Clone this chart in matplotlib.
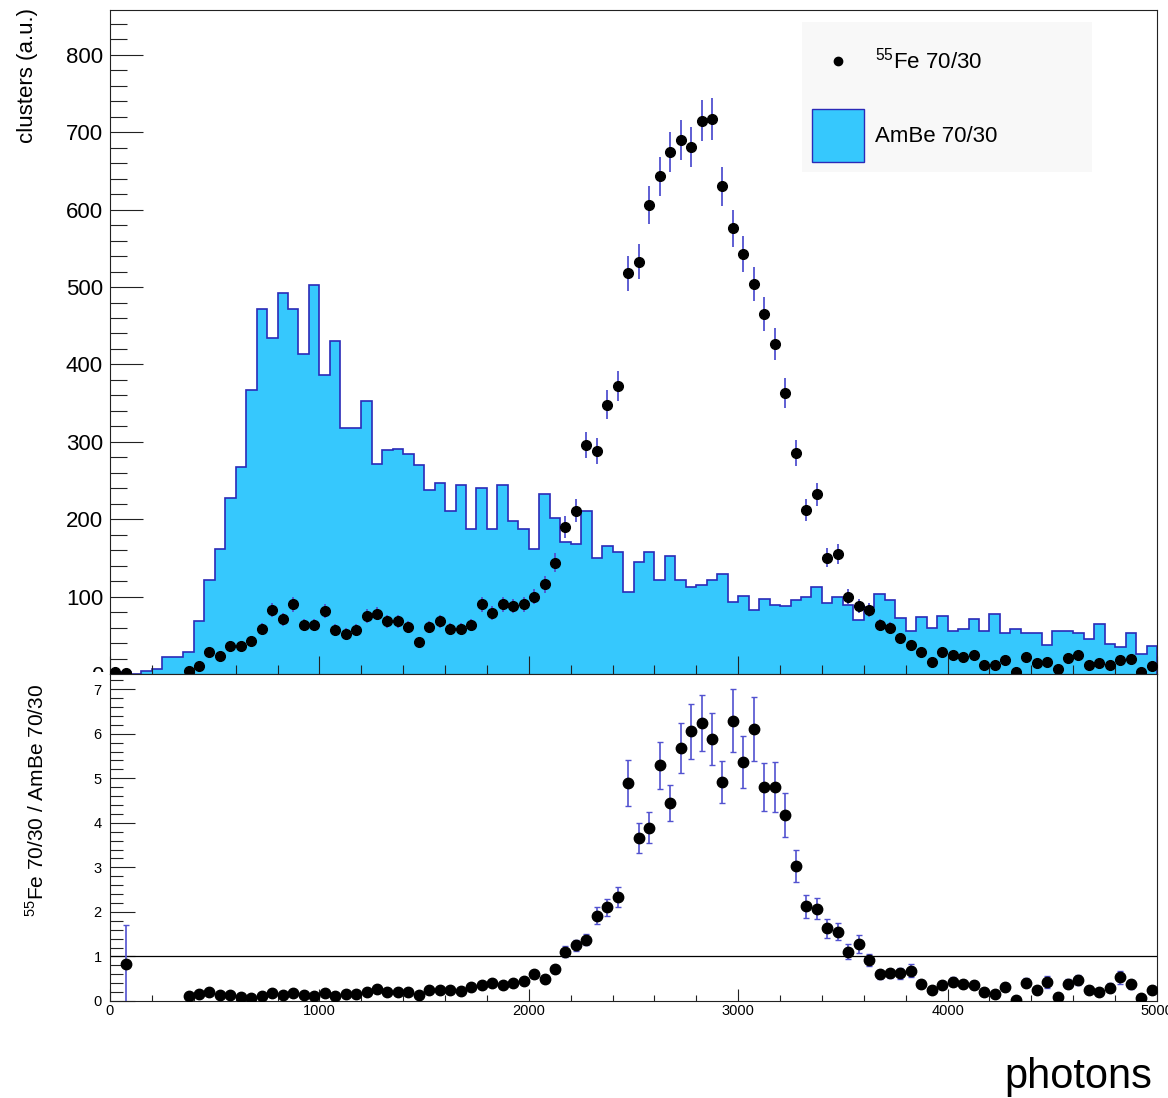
import numpy as np
import matplotlib
matplotlib.use("Agg")
import matplotlib.pyplot as plt
from matplotlib.ticker import MultipleLocator
from matplotlib.patches import Rectangle
from matplotlib.lines import Line2D

plt.rcParams['font.family'] = ['Liberation Sans', 'DejaVu Sans']
plt.rcParams['mathtext.fontset'] = 'custom'
plt.rcParams['mathtext.rm'] = 'Liberation Sans'

# binning: 100 bins of 50 photons
edges = np.arange(0, 5001, 50)
centers = edges[:-1] + 25

# AmBe 70/30 histogram (clusters, a.u.)
ambe = [0, 2, 0, 4, 6.5, 22, 21.5, 29, 69, 121,
        161, 227, 268, 367, 471, 434, 492, 471, 413, 503,
        386, 430, 318, 318, 353, 272, 290, 291, 284, 270,
        238, 247, 211, 244, 187, 240, 187, 244, 198, 188,
        161, 233, 201, 170, 168, 210, 150, 166, 158, 106,
        145, 157, 122, 152, 122, 113, 115, 122, 129, 93,
        101, 83, 97, 89, 88, 95, 99, 112, 92, 99,
        89, 70, 87, 104, 95, 72, 56, 74, 59, 75,
        56, 58, 71, 56, 78, 53, 58, 53, 53, 37,
        56, 56, 53, 45, 65, 39, 35, 53, 26, 36]

# 55Fe 70/30 points (nan = empty bin, not drawn)
nan = np.nan
fe = [2, 1.7, nan, nan, nan, nan, nan, 4, 10, 28,
      23, 36, 36, 42, 58, 83, 71, 90, 63, 63,
      81, 57, 52, 57, 75, 78, 68, 68, 61, 41,
      61, 68, 58, 58, 63, 90, 79, 90, 88, 90,
      100, 116, 144, 190, 211, 296, 288, 348, 372, 518,
      533, 606, 643, 674, 690, 681, 715, 717, 630, 576,
      543, 504, 465, 427, 363, 286, 212, 232, 150, 155,
      100, 88, 83, 63, 59, 46, 37, 28, 16, 28,
      25, 22, 25, 12, 12, 18, 2, 22, 14, 15,
      6, 21, 25, 12, 14, 12, 18, 19, 2, 10]

# ratio 55Fe / AmBe as read from the lower pad
ratio = [nan, 0.84, nan, nan, nan, nan, nan, 0.11, 0.15, 0.21,
         0.13, 0.13, 0.10, 0.07, 0.11, 0.19, 0.13, 0.19, 0.13, 0.11,
         0.19, 0.11, 0.15, 0.16, 0.21, 0.28, 0.21, 0.21, 0.21, 0.13,
         0.25, 0.25, 0.25, 0.22, 0.32, 0.35, 0.41, 0.35, 0.41, 0.46,
         0.60, 0.49, 0.71, 1.11, 1.25, 1.38, 1.91, 2.10, 2.34, 4.89,
         3.66, 3.89, 5.29, 4.45, 5.68, 6.05, 6.24, 5.88, 4.91, 6.29,
         5.36, 6.11, 4.81, 4.80, 4.17, 3.03, 2.13, 2.07, 1.63, 1.56,
         1.11, 1.28, 0.92, 0.60, 0.62, 0.62, 0.68, 0.38, 0.25, 0.36,
         0.43, 0.38, 0.36, 0.21, 0.15, 0.32, 0.02, 0.41, 0.25, 0.43,
         0.09, 0.39, 0.47, 0.25, 0.21, 0.30, 0.53, 0.38, 0.06, 0.25]

ambe = np.array(ambe, dtype=float)
fe = np.array(fe, dtype=float)
ratio = np.array(ratio, dtype=float)

fe_err = np.sqrt(fe)
with np.errstate(divide='ignore', invalid='ignore'):
    ratio_err = ratio * np.sqrt(1.0 / fe + 1.0 / ambe)

cyan = '#36c8fd'
dblue = '#2a2ab8'
ecol = '#5252d0'
frame = '#222222'

W, H = 1168, 1098
fig = plt.figure(figsize=(W / 100, H / 100), dpi=100)
ax1 = fig.add_axes([110 / W, 1 - 674 / H, 1047 / W, 664 / H])
ax2 = fig.add_axes([110 / W, 1 - 1001 / H, 1047 / W, 327 / H])
ax2.set_zorder(1)

# upper pad
ax1.stairs(ambe, edges, fill=True, color=cyan, lw=0)
ax1.stairs(ambe, edges, baseline=0, color=dblue, lw=1.2)
ax1.errorbar(centers, fe, yerr=fe_err, fmt='o', color='black', ms=7,
             ecolor=ecol, elinewidth=1.3, capsize=0, zorder=3)
ax1.set_xlim(0, 5000)
ax1.set_ylim(0, 858)
ax1.xaxis.set_major_locator(MultipleLocator(1000))
ax1.xaxis.set_minor_locator(MultipleLocator(200))
ax1.yaxis.set_major_locator(MultipleLocator(100))
ax1.yaxis.set_minor_locator(MultipleLocator(20))
ax1.tick_params(which='both', direction='in', top=False, right=False, color=frame, width=0.8)
ax1.tick_params(axis='y', which='major', length=24, labelsize=16, pad=5)
ax1.tick_params(axis='y', which='minor', length=12)
ax1.tick_params(axis='x', which='major', length=13, labelbottom=False)
ax1.tick_params(axis='x', which='minor', length=6.5)

# lower pad, its white margin hides the lower half of the upper "0"
ax2.add_patch(Rectangle((0, 0), 108 / W, 1 - 672 / H, transform=fig.transFigure,
                        facecolor='white', edgecolor='none', clip_on=False, zorder=0.5))
ax2.errorbar(centers, ratio, yerr=ratio_err, fmt='o', color='black', ms=7.5,
             ecolor=ecol, elinewidth=1.2, capsize=2.5, capthick=1.0, zorder=3)
ax2.axhline(1, color='black', lw=0.9, zorder=2)
ax2.set_xlim(0, 5000)
ax2.set_ylim(0, 7.34)
ax2.xaxis.set_major_locator(MultipleLocator(1000))
ax2.xaxis.set_minor_locator(MultipleLocator(200))
ax2.yaxis.set_major_locator(MultipleLocator(1))
ax2.yaxis.set_minor_locator(MultipleLocator(0.2))
ax2.tick_params(which='both', direction='in', top=False, right=False, color=frame, width=0.8)
ax2.tick_params(axis='y', which='major', length=18, labelsize=10.5, pad=6)
ax2.tick_params(axis='y', which='minor', length=9)
ax2.tick_params(axis='x', which='major', length=8.6, labelsize=10.5, pad=2)
ax2.tick_params(axis='x', which='minor', length=4.3)

for ax in (ax1, ax2):
    for sp in ax.spines.values():
        sp.set_color(frame)
        sp.set_linewidth(0.8)

# axis titles
fig.text(27 / W, 1 - 8 / H, 'clusters (a.u.)', rotation=90, ha='center', va='top', fontsize=16)
fig.text(36 / W, 1 - 800 / H, r'$^{55}$Fe 70/30 / AmBe 70/30', rotation=90,
         ha='center', va='center', fontsize=15)
fig.text(1152 / W, 1 / H, 'photons', ha='right', va='bottom', fontsize=30)

# legend box
fig.add_artist(Rectangle((802 / W, 1 - 172 / H), 290 / W, 150 / H, transform=fig.transFigure,
                         facecolor='#f8f8f8', edgecolor='none'))
fig.add_artist(Line2D([838 / W], [1 - 61 / H], marker='o', color='black', ms=6,
                      transform=fig.transFigure))
fig.text(875 / W, 1 - 61 / H, r'$^{55}$Fe 70/30', ha='left', va='center', fontsize=16)
fig.add_artist(Rectangle((812 / W, 1 - 162 / H), 52 / W, 53 / H, transform=fig.transFigure,
                         facecolor=cyan, edgecolor=dblue, lw=1.0))
fig.text(875 / W, 1 - 136 / H, 'AmBe 70/30', ha='left', va='center', fontsize=16)

plt.savefig('out.png', dpi=100)
